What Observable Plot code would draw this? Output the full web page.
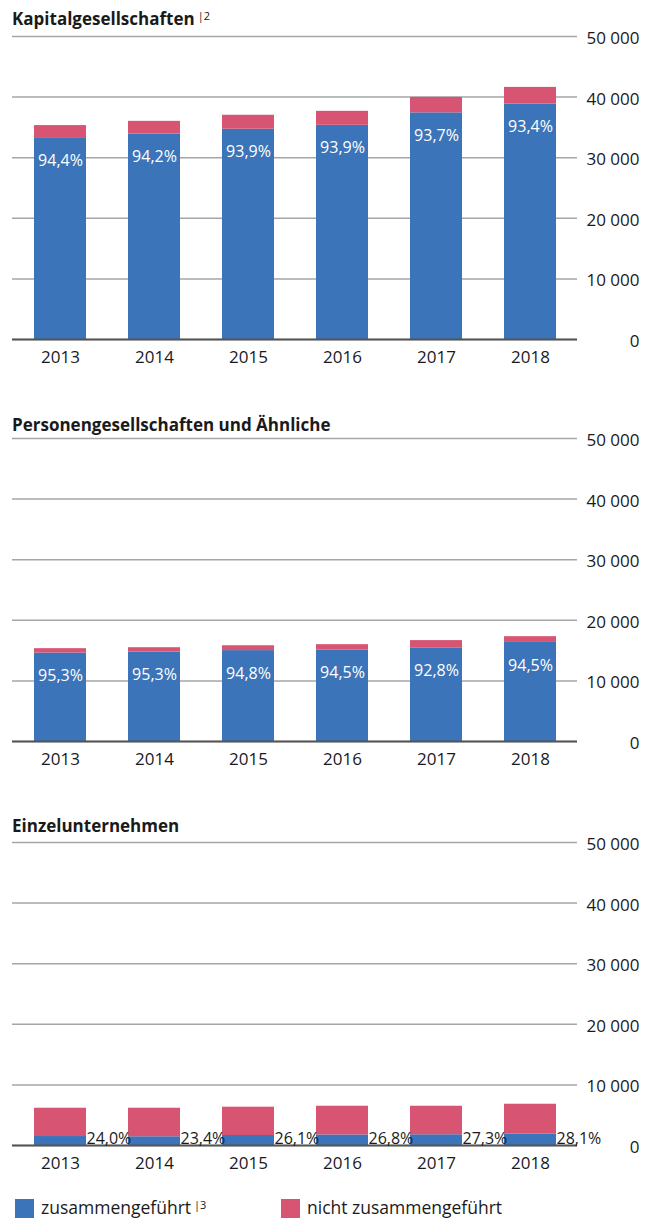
<!DOCTYPE html>
<html>
<head>
<meta charset="utf-8">
<script src="https://cdn.jsdelivr.net/npm/d3@7"></script>
<script src="https://cdn.jsdelivr.net/npm/@observablehq/plot@0.6"></script>
<style>
  body { margin: 0; background: #fff; font-family: "Open Sans", sans-serif; color: #1a1a1a; }
  #root { position: relative; width: 650px; height: 1218px; overflow: hidden; }
  .title { position: absolute; left: 12px; font-weight: 700; font-size: 17px; line-height: 17px; white-space: nowrap; }
  .sup { font-weight: 400; font-size: 11px; position: relative; top: -5px; margin-left: 3px; color: #1a1a1a; }
  .panel { position: absolute; left: 0; }
  .legend { position: absolute; font-size: 17.5px; line-height: 17px; white-space: nowrap; }
  .swatch { position: absolute; width: 19px; height: 19px; }
</style>
</head>
<body>
<div id="root"></div>
<script>
// ---- data ----
const years = ["2013", "2014", "2015", "2016", "2017", "2018"];
const seriesNames = ["zusammengeführt", "nicht zusammengeführt"];
const seriesColors = ["#3b74b9", "#d75573"];

const kapTitle = "Kapitalgesellschaften";
const kapMerged = [33300, 33900, 34700, 35350, 37400, 38850];
const kapNotMerged = [2000, 2100, 2300, 2300, 2550, 2750];
const kapPct = ["94,4%", "94,2%", "93,9%", "93,9%", "93,7%", "93,4%"];

const perTitle = "Personengesellschaften und Ähnliche";
const perMerged = [14600, 14750, 15000, 15100, 15450, 16350];
const perNotMerged = [720, 730, 800, 880, 1200, 950];
const perPct = ["95,3%", "95,3%", "94,8%", "94,5%", "92,8%", "94,5%"];

const einTitle = "Einzelunternehmen";
const einMerged = [1480, 1440, 1650, 1740, 1770, 1910];
const einNotMerged = [4670, 4710, 4670, 4740, 4710, 4900];
const einPct = ["24,0%", "23,4%", "26,1%", "26,8%", "27,3%", "28,1%"];

const yTicks = [0, 10000, 20000, 30000, 40000, 50000];
const yTickLabels = ["0", "10 000", "20 000", "30 000", "40 000", "50 000"];

// ---- layout ----
const root = document.getElementById("root");

function panel(top, merged, notMerged, pct, inside) {
  const rows = [];
  years.forEach((y, i) => {
    rows.push({year: y, series: seriesNames[0], value: merged[i]});
    rows.push({year: y, series: seriesNames[1], value: notMerged[i]});
  });
  const labels = years.map((y, i) => ({year: y, v: merged[i], label: pct[i]}));
  const labelMark = inside
    ? Plot.text(labels, {x: "year", y: "v", text: "label", fill: "white", fontSize: 16, dy: 23, lineAnchor: "middle"})
    : Plot.text(labels, {x: "year", y: 0, text: "label", fill: "#1a1a1a", fontSize: 16, textAnchor: "start", lineAnchor: "bottom", dx: 26, dy: -2});
  const chart = Plot.plot({
    width: 650,
    height: 343,
    marginLeft: 12,
    marginRight: 73,
    marginTop: 10,
    marginBottom: 30,
    style: {fontFamily: "'Open Sans', sans-serif", color: "#1a1a1a", background: "transparent"},
    x: {domain: years, paddingInner: 0.45, paddingOuter: 0.225, label: null, axis: null},
    y: {domain: [0, 50000], label: null, axis: null},
    color: {domain: seriesNames, range: seriesColors},
    marks: [
      Plot.gridY(yTicks, {stroke: "#a6a6a6", strokeOpacity: 1, strokeWidth: 1.5}),
      Plot.barY(rows, {x: "year", y: "value", fill: "series"}),
      Plot.ruleY([0], {stroke: "#555", strokeWidth: 2}),
      Plot.axisY(yTicks, {anchor: "right", tickSize: 0, tickPadding: 62, textAnchor: "end", fontSize: 17, dy: 2,
        tickFormat: d => yTickLabels[yTicks.indexOf(d)], label: null}),
      Plot.axisX({tickSize: 0, tickPadding: 11, fontSize: 17, label: null}),
      labelMark
    ]
  });
  chart.classList.add("panel");
  chart.style.top = top + "px";
  root.appendChild(chart);
}

function title(top, text, sup) {
  const d = document.createElement("div");
  d.className = "title";
  d.style.top = top + "px";
  d.textContent = text;
  if (sup) {
    const s = document.createElement("span");
    s.className = "sup";
    s.textContent = sup;
    d.appendChild(s);
  }
  root.appendChild(d);
}

title(10, kapTitle, "|2");
panel(26, kapMerged, kapNotMerged, kapPct, true);
title(416, perTitle);
panel(428, perMerged, perNotMerged, perPct, true);
title(817, einTitle);
panel(832, einMerged, einNotMerged, einPct, false);

// legend
[[15, 41, seriesNames[0], "|3"], [281, 307, seriesNames[1], null]].forEach(([sx, tx, name, sup], i) => {
  const sw = document.createElement("div");
  sw.className = "swatch";
  sw.style.left = sx + "px";
  sw.style.top = "1199px";
  sw.style.background = seriesColors[i];
  root.appendChild(sw);
  const t = document.createElement("div");
  t.className = "legend";
  t.style.left = tx + "px";
  t.style.top = "1199px";
  t.textContent = name;
  if (sup) {
    const s = document.createElement("span");
    s.className = "sup";
    s.textContent = sup;
    t.appendChild(s);
  }
  root.appendChild(t);
});
</script>
</body>
</html>
